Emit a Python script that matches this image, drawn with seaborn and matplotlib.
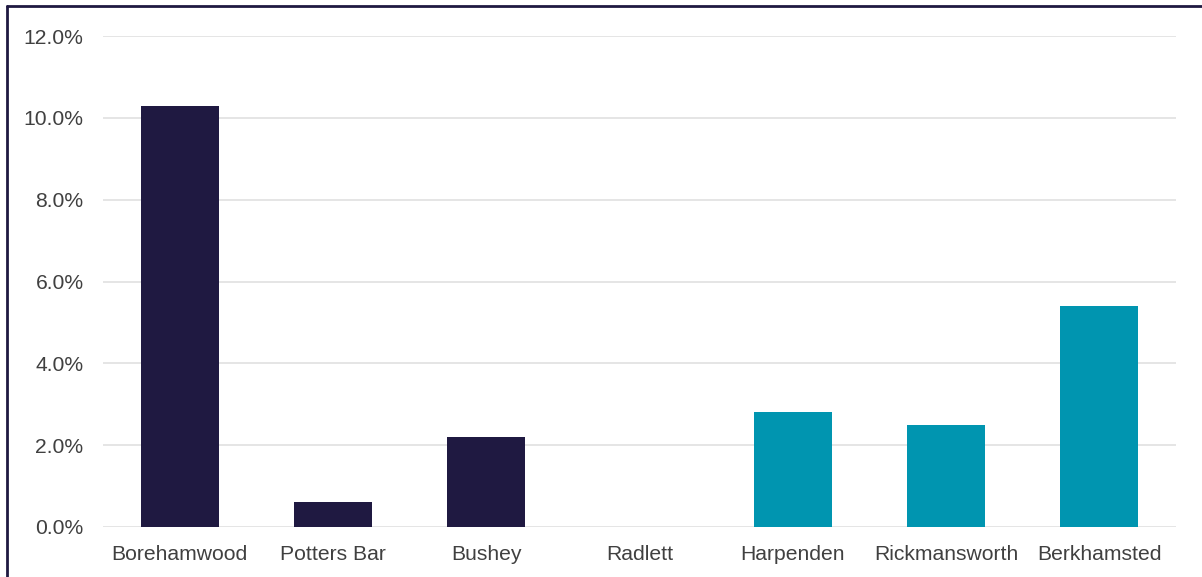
import matplotlib
matplotlib.use("Agg")
import matplotlib.pyplot as plt
import seaborn as sns
import pandas as pd
from matplotlib.ticker import FuncFormatter, MultipleLocator
from matplotlib.lines import Line2D

towns = ["Borehamwood", "Potters Bar", "Bushey", "Radlett", "Harpenden", "Rickmansworth", "Berkhamsted"]
values = [10.3, 0.6, 2.2, 0.0, 2.8, 2.5, 5.4]
groups = ["A", "A", "A", "A", "B", "B", "B"]
palette = {"A": "#1F1941", "B": "#0095B0"}

df = pd.DataFrame({"town": towns, "value": values, "group": groups})

sns.set_theme(style="white")
plt.rcParams["font.family"] = ["Liberation Sans", "DejaVu Sans"]

W, H = 1202, 577
fig = plt.figure(figsize=(W / 100, H / 100), dpi=100)
ax = fig.add_axes([103 / W, 1 - 527 / H, (1176 - 103) / W, (527 - 36) / H])

sns.barplot(data=df, x="town", y="value", hue="group", palette=palette,
            dodge=False, width=0.51, legend=False, ax=ax, saturation=1,
            linewidth=0)

ax.set_ylim(0, 12)
ax.yaxis.set_major_locator(MultipleLocator(2))
ax.yaxis.set_major_formatter(FuncFormatter(lambda v, p: f"{v:.1f}%"))
ax.grid(axis="y", color="#E3E3E3", linewidth=1.3)
ax.set_axisbelow(True)
for s in ax.spines.values():
    s.set_visible(False)
ax.set_xlabel("")
ax.set_ylabel("")
ax.tick_params(axis="both", length=0, labelsize=15.2, colors="#404040")
ax.tick_params(axis="y", pad=14)
ax.tick_params(axis="x", pad=13)
ax.set_xlim(-0.5, 6.5)

# figure frame (left and top edges)
fig.add_artist(Line2D([7 / W, 7 / W], [0, 1 - 6 / H], color="#1F1941", linewidth=2, transform=fig.transFigure))
fig.add_artist(Line2D([7 / W, 1], [1 - 6 / H, 1 - 6 / H], color="#1F1941", linewidth=2, transform=fig.transFigure))

fig.savefig("out.png", dpi=100)
